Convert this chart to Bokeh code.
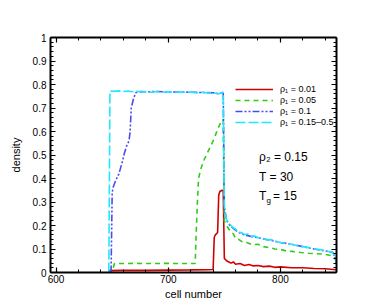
from bokeh.plotting import figure
from bokeh.models import (FixedTicker, LinearAxis, Legend, LegendItem, Label,
                          CustomJSTickFormatter, Range1d)
from bokeh.embed import file_html
from bokeh.resources import INLINE

# ---- data (cell number vs density) ----
red_x = [647, 660, 680, 700, 720, 735, 740, 741, 742, 744, 745, 746, 748, 749, 750, 752, 754, 756, 758, 760,
         764, 768, 772, 776, 780, 785, 790, 795, 800, 810, 820, 830, 840, 850]
red_y = [0.008, 0.009, 0.009, 0.01, 0.011, 0.012, 0.013, 0.15, 0.16, 0.17, 0.33, 0.345, 0.35, 0.35, 0.06, 0.05,
         0.045, 0.04, 0.045, 0.035, 0.038, 0.03, 0.034, 0.028, 0.03, 0.025, 0.027, 0.022, 0.024, 0.02,
         0.02, 0.017, 0.016, 0.012]

green_x = [651, 652, 660, 670, 680, 690, 700, 710, 720, 724, 725, 726, 727, 729, 732, 735, 738, 741, 744, 746,
           748, 749, 750, 752, 754, 756, 758, 760, 763, 766, 770, 775, 780, 785, 790, 795, 800, 805, 810, 818,
           825, 832, 839, 845, 848, 850]
green_y = [0.02, 0.038, 0.038, 0.039, 0.038, 0.038, 0.039, 0.038, 0.038, 0.038, 0.18, 0.3, 0.4, 0.44, 0.48,
           0.51, 0.54, 0.57, 0.61, 0.63, 0.65, 0.65, 0.22, 0.2, 0.185, 0.17, 0.165, 0.145, 0.14, 0.13, 0.128,
           0.118, 0.12, 0.11, 0.106, 0.1, 0.098, 0.092, 0.09, 0.085, 0.082, 0.08, 0.078, 0.072, 0.065, 0.05]

blue_x = [649, 650, 651, 653, 656, 659, 661, 663, 665, 666, 667, 669, 671, 675, 680, 690, 700, 710, 720, 730,
          740, 745, 749, 750, 751, 752, 755, 758, 762, 766, 770, 775, 780, 790, 800, 810, 820, 830, 840, 847, 850]
blue_y = [0.0, 0.34, 0.365, 0.39, 0.42, 0.47, 0.51, 0.54, 0.56, 0.6, 0.7, 0.74, 0.765, 0.77, 0.769, 0.77,
          0.768, 0.768, 0.767, 0.766, 0.765, 0.761, 0.767, 0.28, 0.25, 0.222, 0.2, 0.188, 0.173, 0.163, 0.158,
          0.152, 0.148, 0.138, 0.128, 0.12, 0.11, 0.1, 0.092, 0.085, 0.04]

cyan_x = [647, 648, 652, 656, 660, 664, 668, 672, 676, 680, 685, 690, 695, 700, 705, 710, 715, 720, 725, 730,
          735, 740, 743, 745, 747, 749, 750, 751, 752, 754, 756, 758, 760, 762, 765, 768, 771, 774, 777, 780,
          784, 788, 792, 796, 800, 805, 810, 815, 820, 825, 830, 835, 840, 844, 847, 849, 850]
cyan_y = [0.0, 0.772, 0.771, 0.773, 0.770, 0.772, 0.769, 0.771, 0.768, 0.770, 0.767, 0.770, 0.768, 0.769,
          0.766, 0.768, 0.767, 0.768, 0.765, 0.767, 0.764, 0.766, 0.762, 0.760, 0.765, 0.768, 0.28, 0.25,
          0.225, 0.21, 0.2, 0.19, 0.185, 0.172, 0.17, 0.162, 0.164, 0.154, 0.156, 0.148, 0.146, 0.138, 0.14,
          0.132, 0.128, 0.124, 0.12, 0.114, 0.11, 0.106, 0.1, 0.098, 0.092, 0.088, 0.085, 0.06, 0.04]

series_labels = ["ρ₁ = 0.01", "ρ₁ = 0.05", "ρ₁ = 0.1", "ρ₁ = 0.15–0.5"]

x_major = [600, 700, 800]
x_minor = [620, 640, 660, 680, 720, 740, 760, 780, 820, 840]
y_major = [0, 0.1, 0.2, 0.3, 0.4, 0.5, 0.6, 0.7, 0.8, 0.9, 1.0]
y_minor = [round(i * 0.02, 2) for i in range(51)]

FONT = "Liberation Sans"

p = figure(width=382, height=306, x_range=Range1d(595, 850), y_range=Range1d(0, 1),
           output_backend="svg", toolbar_location=None,
           min_border_left=50, min_border_right=46, min_border_top=37, min_border_bottom=34,
           x_axis_label="cell number", y_axis_label="density")
p.outline_line_color = None
p.xgrid.visible = False
p.ygrid.visible = False

xt = FixedTicker(ticks=x_major, minor_ticks=x_minor)
yt = FixedTicker(ticks=y_major, minor_ticks=y_minor)
yfmt = CustomJSTickFormatter(code="return Number(tick.toFixed(1)).toString();")
blank = CustomJSTickFormatter(code="return '';")


def style_axis(ax):
    ax.axis_line_width = 2
    ax.axis_line_color = "black"
    ax.major_tick_in = 5
    ax.major_tick_out = 0
    ax.minor_tick_in = 3
    ax.minor_tick_out = 0
    ax.major_tick_line_width = 1.2
    ax.minor_tick_line_width = 1
    ax.major_tick_line_color = "black"
    ax.minor_tick_line_color = "black"
    ax.major_label_text_font = FONT
    ax.major_label_text_color = "black"
    ax.major_label_text_font_size = "10px"
    ax.axis_label_text_font = FONT
    ax.axis_label_text_font_size = "11px"
    ax.axis_label_text_font_style = "normal"
    ax.axis_label_text_color = "black"


p.xaxis.ticker = xt
p.yaxis.ticker = yt
p.yaxis.formatter = yfmt
style_axis(p.xaxis[0])
style_axis(p.yaxis[0])
p.xaxis.major_label_standoff = 2
p.xaxis.axis_label_standoff = 2
p.yaxis.major_label_standoff = 4
p.yaxis.axis_label_standoff = 8

top = LinearAxis(ticker=xt, formatter=blank)
style_axis(top)
p.add_layout(top, "above")
right = LinearAxis(ticker=yt, formatter=blank)
style_axis(right)
p.add_layout(right, "right")

r1 = p.line(red_x, red_y, line_color="#d00000", line_width=1.6)
r2 = p.line(green_x, green_y, line_color="#2ecc1a", line_width=1.6, line_dash="5 4")
r3 = p.line(blue_x, blue_y, line_color="#4b4bf0", line_width=1.6, line_dash="7 2 2 2 2 2")
r4 = p.line(cyan_x, cyan_y, line_color="#1ee8ff", line_width=1.6, line_dash="10 3")

legend = Legend(items=[LegendItem(label=series_labels[i], renderers=[r])
                       for i, r in enumerate([r1, r2, r3, r4])],
                location=(185, 145), glyph_width=38, glyph_height=10, label_height=10,
                spacing=1, padding=0, margin=0, label_standoff=7,
                border_line_color=None, background_fill_alpha=0,
                label_text_font=FONT, label_text_font_size="9px", label_text_color="black")
p.add_layout(legend)

ann = dict(text_font=FONT, text_font_size="12px", text_baseline="middle", text_color="black")
p.add_layout(Label(x=781, y=0.49, text="ρ₂ = 0.15", **ann))
p.add_layout(Label(x=781, y=0.405, text="T = 30", **ann))
p.add_layout(Label(x=781, y=0.325, text="T", **ann))
p.add_layout(Label(x=781, y=0.325, x_offset=7.5, y_offset=-4, text="g", text_font=FONT,
                   text_font_size="8px", text_baseline="middle", text_color="black"))
p.add_layout(Label(x=781, y=0.325, x_offset=14, text="= 15", **ann))

open("out.html", "w").write(file_html(p, INLINE))
